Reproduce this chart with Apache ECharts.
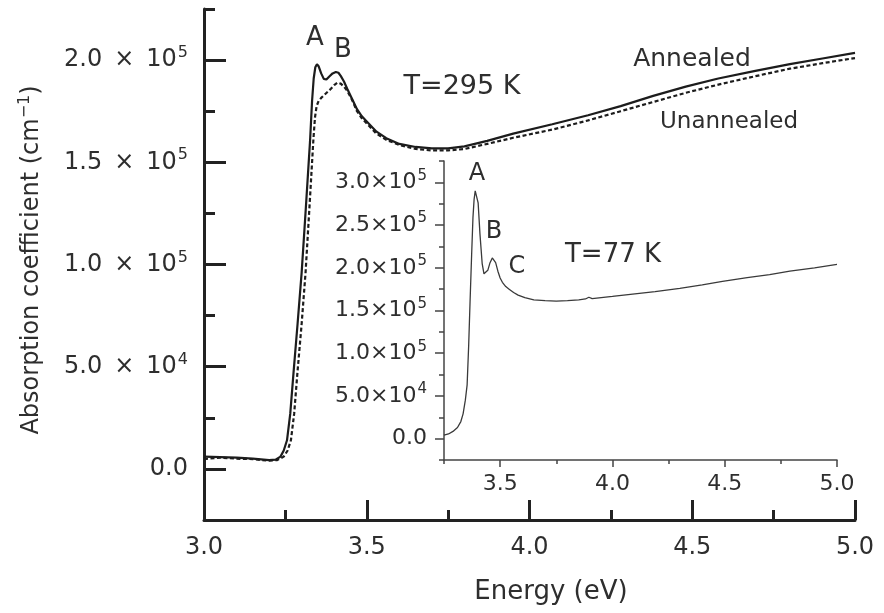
<!DOCTYPE html>
<html>
<head>
<meta charset="utf-8">
<script src="https://cdn.jsdelivr.net/npm/echarts@6/dist/echarts.min.js"></script>
<style>
html,body{margin:0;padding:0;background:#fff;}
#c{width:884px;height:613px;}
</style>
</head>
<body>
<div id="c"></div>
<script>
// ---- Data ----
// Main panel, T = 295 K
var energyAnnealed = [3.00,3.05,3.10,3.15,3.20,3.22,3.235,3.245,3.255,3.265,3.275,3.2875,3.30,3.313,3.326,3.332,3.337,3.342,3.347,3.352,3.36,3.368,3.376,3.385,3.395,3.405,3.413,3.42,3.43,3.44,3.455,3.47,3.485,3.50,3.53,3.56,3.60,3.65,3.70,3.75,3.80,3.87,3.95,4.07,4.18,4.28,4.38,4.48,4.58,4.69,4.80,4.90,5.00];
var absAnnealed    = [6000,5800,5500,5000,4300,4500,6000,9000,14000,27000,47000,71000,96000,128000,161000,180000,191000,196500,198000,197000,193500,190800,190500,192000,193500,194200,193800,192300,189500,186000,181000,176000,172500,170000,165000,161800,159000,157500,156800,156800,157800,160500,164000,168600,173000,177500,182500,187000,191000,194600,198000,200800,203500];

var energyUnannealed = [3.00,3.05,3.10,3.15,3.20,3.225,3.245,3.257,3.267,3.277,3.287,3.30,3.312,3.324,3.336,3.341,3.346,3.352,3.36,3.37,3.38,3.39,3.40,3.41,3.42,3.43,3.44,3.455,3.47,3.485,3.50,3.53,3.56,3.60,3.65,3.70,3.75,3.80,3.87,3.95,4.07,4.18,4.28,4.38,4.48,4.58,4.69,4.80,4.90,5.00];
var absUnannealed    = [4800,5500,5000,4800,4000,4300,6000,9000,14000,27000,47000,71000,96000,128000,161000,172000,177500,180000,181500,183000,184500,186000,187800,189000,188500,187000,185000,180500,175000,171500,169000,164000,161000,158500,156500,155800,155800,156500,159000,162000,166000,170500,175000,179500,184000,188000,192000,195800,198500,201000];

// Inset, T = 77 K
var energy77K = [3.25,3.27,3.29,3.31,3.325,3.335,3.345,3.353,3.36,3.366,3.373,3.379,3.384,3.389,3.393,3.397,3.402,3.41,3.42,3.428,3.435,3.445,3.455,3.465,3.472,3.48,3.49,3.50,3.51,3.525,3.54,3.56,3.58,3.61,3.65,3.70,3.75,3.80,3.85,3.88,3.895,3.91,3.94,4.00,4.10,4.19,4.30,4.40,4.49,4.60,4.70,4.79,4.90,5.00];
var abs77K    = [4000,5500,8500,13000,20000,29000,45000,63000,110000,160000,215000,259000,280000,290000,292000,289000,276000,240000,205000,193000,191500,197000,206000,211500,211500,206000,196000,188000,183000,178000,175000,171000,168000,165000,162500,161500,161000,161500,162500,163500,165500,163800,164800,166500,169500,172000,176000,180000,184000,188500,192000,196000,200000,204000];

// Tick values
var mainYMajor = [0,50000,100000,150000,200000];
var mainYMinor = [25000,75000,125000,175000,225000];
var insetYMajor = [0,50000,100000,150000,200000,250000,300000];
var insetYMinor = [-25000,25000,75000,125000,175000,225000,275000,325000];
var insetXMajor = [3.5,4.0,4.5,5.0];
var insetXMinor = [3.25,3.75,4.25,4.75];

// Text
var xAxisName = 'Energy (eV)';

// ---- Helpers ----
function sci(v, sep) {
  if (v === 0) return '{n|0.0}';
  var e = Math.floor(Math.log10(Math.abs(v)) + 1e-9);
  var m = v / Math.pow(10, e);
  return '{n|' + m.toFixed(1) + sep + '\u00D7' + sep + '10}{s|' + e + '}';
}
function zip(a, b) { return a.map(function(x, i){ return [x, b[i]]; }); }

var FONT = 'DejaVu Sans';
var TXT = '#2e2e2e';
var AX = '#222222';
var AX2 = '#444444';

var mainRich = {
  n: {fontSize: 24, fontFamily: FONT, color: TXT, lineHeight: 30},
  s: {fontSize: 16, fontFamily: FONT, color: TXT, verticalAlign: 'top', lineHeight: 30, padding: [0, 0, 0, 1]}
};
var insetRich = {
  n: {fontSize: 22, fontFamily: FONT, color: TXT, lineHeight: 28},
  s: {fontSize: 15, fontFamily: FONT, color: TXT, verticalAlign: 'top', lineHeight: 28, padding: [0, 0, 0, 1]}
};

var chart = echarts.init(document.getElementById('c'), null, {renderer: 'canvas'});

var option = {
  animation: false,
  backgroundColor: '#ffffff',
  grid: [
    {left: 204, right: 29, top: 9, bottom: 93, containLabel: false},
    {left: 444, right: 47, top: 161, bottom: 153, containLabel: false}
  ],
  xAxis: [
    {
      gridIndex: 0, type: 'value', min: 3.0, max: 5.0, interval: 0.5,
      axisLine: {show: true, onZero: false, lineStyle: {color: AX, width: 3}},
      axisTick: {show: true, inside: true, length: 20, lineStyle: {color: AX, width: 3}},
      minorTick: {show: true, splitNumber: 2, length: 10, lineStyle: {color: AX, width: 3}},
      axisLabel: {fontSize: 24, fontFamily: FONT, color: TXT, margin: 16, formatter: function(v){return v.toFixed(1);}},
      splitLine: {show: false}, minorSplitLine: {show: false}
    },
    {
      gridIndex: 1, type: 'value', min: 3.25, max: 5.0,
      axisLine: {show: true, onZero: false, lineStyle: {color: AX2, width: 1.5}},
      axisTick: {show: true, inside: false, length: 7, customValues: insetXMajor, lineStyle: {color: AX2, width: 1.5}},
      axisLabel: {fontSize: 22, fontFamily: FONT, color: TXT, margin: 13, customValues: insetXMajor, formatter: function(v){return v.toFixed(1);}},
      splitLine: {show: false}
    },
    {
      gridIndex: 1, type: 'value', min: 3.25, max: 5.0, position: 'bottom', offset: 0,
      axisLine: {show: false, onZero: false},
      axisTick: {show: true, inside: false, length: 4, customValues: insetXMinor, lineStyle: {color: AX2, width: 1.5}},
      axisLabel: {show: false},
      splitLine: {show: false}
    }
  ],
  yAxis: [
    {
      gridIndex: 0, type: 'value', min: -25000, max: 225000,
      axisLine: {show: true, onZero: false, lineStyle: {color: AX, width: 3}},
      axisTick: {show: true, inside: true, length: 22, customValues: mainYMajor, lineStyle: {color: AX, width: 3}},
      axisLabel: {margin: 16, customValues: mainYMajor, formatter: function(v){return sci(v, '\u2002');}, rich: mainRich},
      splitLine: {show: false}
    },
    {
      gridIndex: 0, type: 'value', min: -25000, max: 225000, position: 'left', offset: 0,
      axisLine: {show: false, onZero: false},
      axisTick: {show: true, inside: true, length: 11, customValues: mainYMinor, lineStyle: {color: AX, width: 3}},
      axisLabel: {show: false},
      splitLine: {show: false}
    },
    {
      gridIndex: 1, type: 'value', min: -25000, max: 325000,
      axisLine: {show: true, onZero: false, lineStyle: {color: AX2, width: 1.5}},
      axisTick: {show: true, inside: false, length: 9, customValues: insetYMajor, lineStyle: {color: AX2, width: 1.5}},
      axisLabel: {margin: 17, customValues: insetYMajor, formatter: function(v){return sci(v, '');}, rich: insetRich},
      splitLine: {show: false}
    },
    {
      gridIndex: 1, type: 'value', min: -25000, max: 325000, position: 'left', offset: 0,
      axisLine: {show: false, onZero: false},
      axisTick: {show: true, inside: false, length: 5, customValues: insetYMinor, lineStyle: {color: AX2, width: 1.5}},
      axisLabel: {show: false},
      splitLine: {show: false}
    }
  ],
  series: [
    {
      name: 'Annealed', type: 'line', xAxisIndex: 0, yAxisIndex: 0,
      data: zip(energyAnnealed, absAnnealed), showSymbol: false, symbol: 'none',
      smooth: false,
      lineStyle: {color: '#1c1c1c', width: 2.2}
    },
    {
      name: 'Unannealed', type: 'line', xAxisIndex: 0, yAxisIndex: 0,
      data: zip(energyUnannealed, absUnannealed), showSymbol: false, symbol: 'none',
      smooth: false,
      lineStyle: {color: '#1c1c1c', width: 2.2, type: [4, 2.5]}
    },
    {
      name: 'T=77 K', type: 'line', xAxisIndex: 1, yAxisIndex: 2,
      data: zip(energy77K, abs77K), showSymbol: false, symbol: 'none',
      smooth: false,
      lineStyle: {color: '#3a3a3a', width: 1.3}
    }
  ],
  graphic: [
    {type: 'text', x: 32, y: 260, rotation: Math.PI / 2,
     style: {text: '{n|Absorption coefficient (cm}{s|\u22121}{n|)}', align: 'center', verticalAlign: 'middle',
             rich: {n: {fontSize: 24, fontFamily: FONT, fill: TXT, lineHeight: 30},
                    s: {fontSize: 16, fontFamily: FONT, fill: TXT, verticalAlign: 'top', lineHeight: 30}}}},
    {type: 'text', x: 551, y: 592,
     style: {text: xAxisName, fontSize: 26, fontFamily: FONT, fill: TXT, align: 'center', verticalAlign: 'middle'}},
    {type: 'text', x: 315, y: 38, style: {text: 'A', fontSize: 26, fontFamily: FONT, fill: TXT, align: 'center', verticalAlign: 'middle'}},
    {type: 'text', x: 343, y: 50, style: {text: 'B', fontSize: 26, fontFamily: FONT, fill: TXT, align: 'center', verticalAlign: 'middle'}},
    {type: 'text', x: 462, y: 87, style: {text: 'T=295 K', fontSize: 27, fontFamily: FONT, fill: TXT, align: 'center', verticalAlign: 'middle'}},
    {type: 'text', x: 692, y: 59, style: {text: 'Annealed', fontSize: 25, fontFamily: FONT, fill: TXT, align: 'center', verticalAlign: 'middle'}},
    {type: 'text', x: 729, y: 122, style: {text: 'Unannealed', fontSize: 23, fontFamily: FONT, fill: TXT, align: 'center', verticalAlign: 'middle'}},
    {type: 'text', x: 477, y: 174, style: {text: 'A', fontSize: 24, fontFamily: FONT, fill: TXT, align: 'center', verticalAlign: 'middle'}},
    {type: 'text', x: 494, y: 232, style: {text: 'B', fontSize: 24, fontFamily: FONT, fill: TXT, align: 'center', verticalAlign: 'middle'}},
    {type: 'text', x: 517, y: 267, style: {text: 'C', fontSize: 24, fontFamily: FONT, fill: TXT, align: 'center', verticalAlign: 'middle'}},
    {type: 'text', x: 613, y: 255, style: {text: 'T=77 K', fontSize: 26, fontFamily: FONT, fill: TXT, align: 'center', verticalAlign: 'middle'}}
  ]
};
chart.setOption(option);
</script>
</body>
</html>
